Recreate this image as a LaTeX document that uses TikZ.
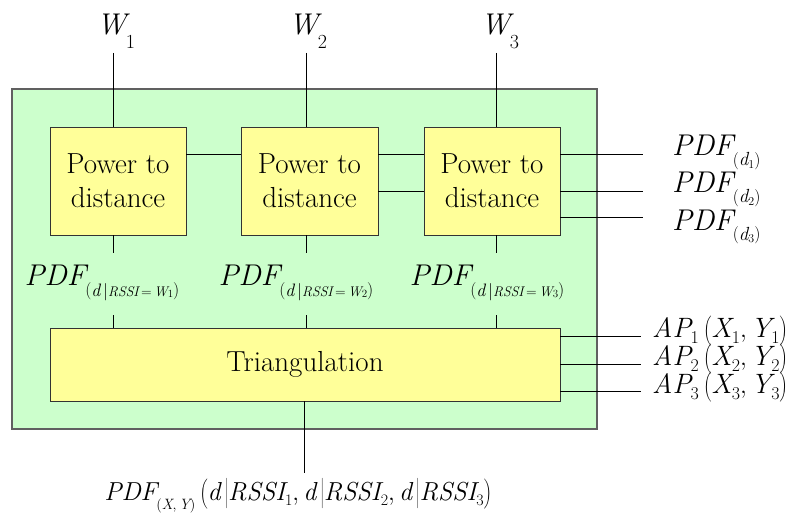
\documentclass[tikz,border=0pt]{standalone}
\definecolor{greenfill}{HTML}{CCFFCC}
\definecolor{yellowfill}{HTML}{FFFF99}
\definecolor{framegray}{HTML}{606060}
% lowered small text: #1 shift, #2 size, #3 content
\newcommand\dn[3]{\raisebox{#1}{\fontsize{#2}{#2}\selectfont #3}}
\newcommand\tallstrut{\vrule height 20pt depth 8pt width 0pt}
\tikzset{
  outerbox/.style={draw=framegray, line width=1.6pt, fill=greenfill, inner sep=0pt},
  stepbox/.style={draw=black!80, line width=0.9pt, fill=yellowfill, inner sep=0pt,
    align=center, font=\fontsize{29}{34}\selectfont},
  wire/.style={line width=0.8pt, black},
  lbl/.style={inner sep=0pt, font=\fontsize{30}{34}\selectfont},
  smalllbl/.style={inner sep=0pt, font=\fontsize{28}{30}\selectfont},
  outlbl/.style={inner sep=0pt, font=\fontsize{26}{30}\selectfont}
}
\begin{document}
\begin{tikzpicture}[x=1pt,y=-1pt]
\useasboundingbox (0,0) rectangle (804,516);
% frame
\node[outerbox, minimum width=585pt, minimum height=340pt] (frame) at (304.5,259) {};
% boxes
\node[stepbox, minimum width=136pt, minimum height=108pt] (box1) at (118,181) {Power to\\distance};
\node[stepbox, minimum width=137pt, minimum height=108pt] (box2) at (309.5,181) {Power to\\distance};
\node[stepbox, minimum width=136pt, minimum height=108pt] (box3) at (492,181) {Power to\\distance};
\node[stepbox, minimum width=510pt, minimum height=73pt] (trig) at (305,364.5) {Triangulation};
% top inputs
\node[lbl, anchor=base] (W1) at (116,35) {\textit{W}\kern-4pt\dn{-14pt}{20}{1}};
\node[lbl, anchor=base] (W2) at (308,35) {\textit{W}\kern-4pt\dn{-14pt}{20}{2}};
\node[lbl, anchor=base] (W3) at (500,35) {\textit{W}\kern-4pt\dn{-14pt}{20}{3}};
\coordinate (t1) at (113,53);
\coordinate (t2) at (306,53);
\coordinate (t3) at (496,53);
\draw[wire] (t1) -- (t1 |- box1.north);
\draw[wire] (t2) -- (t2 |- box2.north);
\draw[wire] (t3) -- (t3 |- box3.north);
% horizontal links
\coordinate (h1) at (0,154);
\coordinate (h2) at (0,191);
\draw[wire] (box1.east |- h1) -- (box2.west |- h1);
\draw[wire] (box2.east |- h1) -- (box3.west |- h1);
\draw[wire] (box2.east |- h2) -- (box3.west |- h2);
% right outputs of box3
\coordinate (r1) at (643,154);
\coordinate (r2) at (643,191);
\coordinate (r3) at (643,217);
\draw[wire] (r1 -| box3.east) -- (r1);
\draw[wire] (r2 -| box3.east) -- (r2);
\draw[wire] (r3 -| box3.east) -- (r3);
\node[lbl, anchor=base west] (pd1) at (672,156) {\textit{PDF}\kern-3pt\dn{-10pt}{19}{$\left(\textit{d}\dn{-3pt}{12}{1}\right)$}};
\node[lbl, anchor=base west] (pd2) at (672,193) {\textit{PDF}\kern-3pt\dn{-10pt}{19}{$\left(\textit{d}\dn{-3pt}{12}{2}\right)$}};
\node[lbl, anchor=base west] (pd3) at (672,230) {\textit{PDF}\kern-3pt\dn{-10pt}{19}{$\left(\textit{d}\dn{-3pt}{12}{3}\right)$}};
% middle labels
\coordinate (u1) at (113,253);
\coordinate (u2) at (306,253);
\coordinate (u3) at (496,253);
\draw[wire] (box1.south -| u1) -- (u1);
\draw[wire] (box2.south -| u2) -- (u2);
\draw[wire] (box3.south -| u3) -- (u3);
\node[lbl, anchor=base] (m1) at (102,285) {\textit{PDF}\kern-3pt\dn{-11pt}{18}{$\left(\textit{d}\,\middle|\hbox{\fontsize{14}{14}\selectfont\itshape RSSI\,\upshape=\,\itshape W\dn{-2pt}{11}{\upshape 1}}\right)$}};
\node[lbl, anchor=base] (m2) at (296,285) {\textit{PDF}\kern-3pt\dn{-11pt}{18}{$\left(\textit{d}\,\middle|\hbox{\fontsize{14}{14}\selectfont\itshape RSSI\,\upshape=\,\itshape W\dn{-2pt}{11}{\upshape 2}}\right)$}};
\node[lbl, anchor=base] (m3) at (487,285) {\textit{PDF}\kern-3pt\dn{-11pt}{18}{$\left(\textit{d}\,\middle|\hbox{\fontsize{14}{14}\selectfont\itshape RSSI\,\upshape=\,\itshape W\dn{-2pt}{11}{\upshape 3}}\right)$}};
\coordinate (v1) at (113,315);
\coordinate (v2) at (306,315);
\coordinate (v3) at (496,315);
\draw[wire] (v1) -- (v1 |- trig.north);
\draw[wire] (v2) -- (v2 |- trig.north);
\draw[wire] (v3) -- (v3 |- trig.north);
% AP inputs
\coordinate (a1) at (641,336);
\coordinate (a2) at (641,364);
\coordinate (a3) at (641,391);
\draw[wire] (a1 -| trig.east) -- (a1);
\draw[wire] (a2 -| trig.east) -- (a2);
\draw[wire] (a3 -| trig.east) -- (a3);
\node[smalllbl, anchor=base west] (ap1) at (652,337) {\textit{AP}\kern-2pt\dn{-6pt}{18}{1}\,$\left(\tallstrut\textit{X}\dn{-6pt}{18}{1},\textit{Y}\dn{-6pt}{18}{1}\right)$};
\node[smalllbl, anchor=base west] (ap2) at (652,365) {\textit{AP}\kern-2pt\dn{-6pt}{18}{2}\,$\left(\tallstrut\textit{X}\dn{-6pt}{18}{2},\textit{Y}\dn{-6pt}{18}{2}\right)$};
\node[smalllbl, anchor=base west] (ap3) at (652,393) {\textit{AP}\kern-2pt\dn{-6pt}{18}{3}\,$\left(\tallstrut\textit{X}\dn{-6pt}{18}{3},\textit{Y}\dn{-6pt}{18}{3}\right)$};
% bottom output
\coordinate (b) at (304,473);
\draw[wire] (trig.south -| b) -- (b);
\node[outlbl, anchor=base] (out) at (298,500) {\textit{PDF}\kern-3pt\dn{-9pt}{15}{$\left(\textit{X},\textit{Y}\right)$}\,$\left(\tallstrut\textit{d}\,\middle|\textit{RSSI}\dn{-5pt}{16}{1},\textit{d}\,\middle|\textit{RSSI}\dn{-5pt}{16}{2},\textit{d}\,\middle|\textit{RSSI}\dn{-5pt}{16}{3}\right)$};
\end{tikzpicture}
\end{document}
